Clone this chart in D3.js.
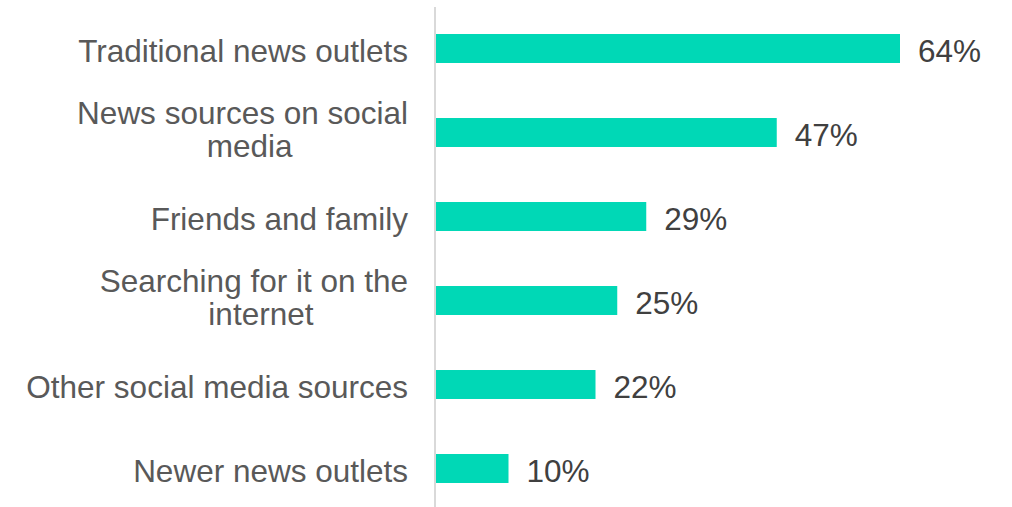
<!DOCTYPE html>
<html>
<head>
<meta charset="utf-8">
<script src="https://cdn.jsdelivr.net/npm/d3@7"></script>
<style>
  html, body { margin: 0; padding: 0; background: #ffffff; }
  svg { display: block; }
  text { font-family: "Liberation Sans", Arial, sans-serif; }
</style>
</head>
<body>
<svg id="chart" width="1012" height="507"></svg>
<script>
// Where people get their news (share of respondents, %)
const categories = [
  "Traditional news outlets",
  "News sources on social media",
  "Friends and family",
  "Searching for it on the internet",
  "Other social media sources",
  "Newer news outlets"
];
const values = [64, 47, 29, 25, 22, 10];

const width = 1012, height = 507;
const fontSize = 31.5;
const barColor = "#00D8B6";
const labelColor = "#595959";
const valueColor = "#404040";
const axisColor = "#D9D9D9";

const svg = d3.select("#chart");

const x = d3.scaleLinear().domain([0, 100]).range([436, 1161]);
const y = d3.scaleBand()
  .domain(categories)
  .range([6.5, 510.5])
  .paddingInner(0.655)
  .paddingOuter(0.3275);

const data = categories.map((c, i) => ({ category: c, value: values[i] }));

// Bars
svg.append("g")
  .selectAll("rect")
  .data(data)
  .join("rect")
  .attr("x", x(0))
  .attr("y", d => y(d.category))
  .attr("width", d => x(d.value) - x(0))
  .attr("height", y.bandwidth())
  .attr("fill", barColor);

// Vertical category axis line
svg.append("line")
  .attr("x1", 435).attr("x2", 435)
  .attr("y1", 7).attr("y2", height)
  .attr("stroke", axisColor)
  .attr("stroke-width", 2);

// Value labels
svg.append("g")
  .selectAll("text")
  .data(data)
  .join("text")
  .attr("x", d => x(d.value) + 18)
  .attr("y", d => y(d.category) + y.bandwidth() / 2 + 13)
  .attr("font-size", fontSize)
  .attr("fill", valueColor)
  .text(d => d.value + "%");

// Category labels, word-wrapped to a maximum width
const maxLabelWidth = 395;
const labelRight = 408;
const lineStep = 32.5;

const measure = svg.append("text").attr("font-size", fontSize).attr("visibility", "hidden");
function textWidth(s) {
  measure.text(s);
  return measure.node().getComputedTextLength();
}
const spaceWidth = textWidth("a a") - textWidth("aa");

function wrap(label) {
  const words = label.split(" ");
  const lines = [];
  let current = "";
  words.forEach(w => {
    const trial = current ? current + " " + w : w;
    if (current && textWidth(trial) > maxLabelWidth) {
      lines.push(current);
      current = w;
    } else {
      current = trial;
    }
  });
  if (current) lines.push(current);
  return lines;
}

const labelGroup = svg.append("g");
data.forEach(d => {
  const lines = wrap(d.category);
  const cy = y(d.category) + y.bandwidth() / 2;
  const firstBaseline = cy + 13 - (lines.length - 1) * 21.5;
  const t = labelGroup.append("text")
    .attr("font-size", fontSize)
    .attr("fill", labelColor)
    .attr("text-anchor", lines.length > 1 ? "middle" : "end");
  if (lines.length === 1) {
    t.append("tspan").attr("x", labelRight).attr("y", firstBaseline).text(lines[0]);
    return;
  }
  // wrapped lines are centred on the first line, which keeps its break space
  const firstW = textWidth(lines[0]);
  const centre = labelRight - firstW / 2 + spaceWidth * 0.8;
  lines.forEach((l, i) => {
    t.append("tspan")
      .attr("x", i === 0 ? labelRight - firstW / 2 : centre)
      .attr("y", firstBaseline + i * lineStep)
      .text(l);
  });
});
measure.remove();
</script>
</body>
</html>
